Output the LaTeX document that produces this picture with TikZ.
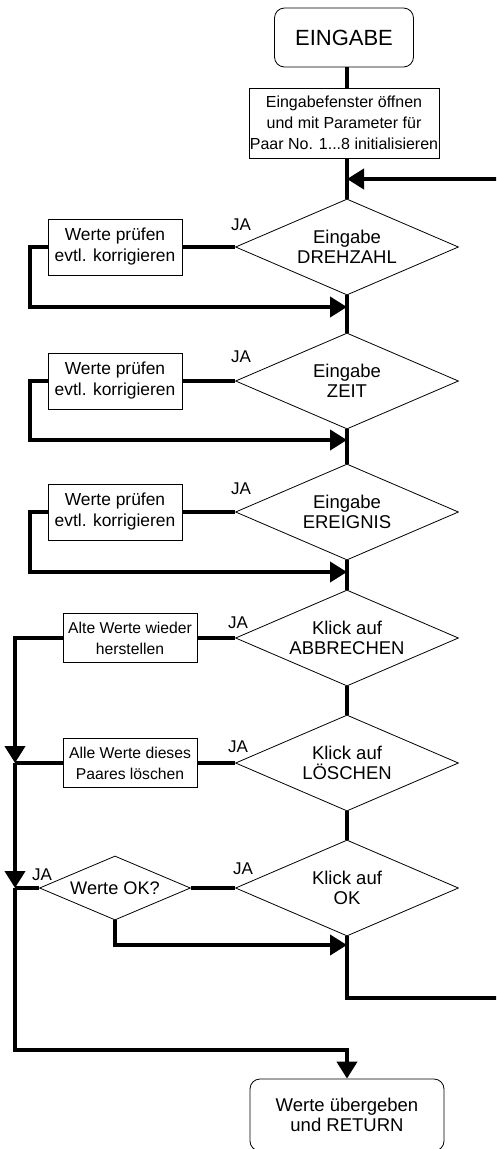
\documentclass[tikz,border=0pt]{standalone}
\usepackage{fontspec}
\setmainfont{Liberation Sans}
\usetikzlibrary{arrows.meta,shapes.geometric}

\begin{document}
\begin{tikzpicture}[x=1pt,y=-1pt,
  thinline/.style={draw=black, line width=0.8pt},
  terminal/.style={thinline, rounded corners=10pt, inner sep=0pt, align=center},
  procbox/.style={thinline, inner sep=0pt, align=center},
  decision/.style={thinline, diamond, inner sep=0pt, align=center,
    minimum width=223pt, minimum height=96pt, aspect=2.32,
    font=\fontsize{18.5}{20}\selectfont},
  checkbox/.style={procbox, minimum width=134pt, minimum height=56pt,
    font=\fontsize{17.4}{21}\selectfont},
  actionbox/.style={procbox, minimum width=134pt, minimum height=49pt,
    font=\fontsize{15.7}{21}\selectfont},
  yes/.style={font=\fontsize{17}{17}\selectfont, inner sep=0pt},
  flow/.style={line width=4pt},
  arr/.style={-{Triangle[length=17pt,width=20pt]}}]

\useasboundingbox (0,0) rectangle (496,1149);
\fill[white] (0,0) rectangle (496,1149);
\clip (0,0) rectangle (496,1149);

% start and initialisation
\node[terminal, minimum width=139pt, minimum height=59pt,
      font=\fontsize{22}{22}\selectfont] (ein) at (344,37.5) {EINGABE};
\node[procbox, minimum width=190pt, minimum height=70pt,
      font=\fontsize{16}{21}\selectfont] (init) at (344,123)
      {Eingabefenster öffnen\\und mit Parameter für\\Paar No. 1...8 initialisieren};

% main decisions
\node[decision] (d1) at (347,247) {Eingabe\\DREHZAHL};
\node[decision] (d2) at (347,381) {Eingabe\\ZEIT};
\node[decision] (d3) at (347,512) {Eingabe\\EREIGNIS};
\node[decision] (d4) at (347,638) {Klick auf\\ABBRECHEN};
\node[decision] (d5) at (347,763) {Klick auf\\LÖSCHEN};
\node[decision] (d6) at (347,888) {Klick auf\\OK};
\node[thinline, diamond, inner sep=0pt, minimum width=151pt, minimum height=64pt,
      aspect=2.36, font=\fontsize{18.2}{20}\selectfont] (ok) at (115,888) {Werte OK?};

% side actions
\node[checkbox] (w1) at (115,247) {Werte prüfen\\evtl. korrigieren};
\node[checkbox] (w2) at (115,381) {Werte prüfen\\evtl. korrigieren};
\node[checkbox] (w3) at (115,512) {Werte prüfen\\evtl. korrigieren};
\node[actionbox] (a4) at (130,638) {Alte Werte wieder\\herstellen};
\node[actionbox] (a5) at (130,763) {Alle Werte dieses\\Paares löschen};

% end
\node[terminal, minimum width=194pt, minimum height=72pt,
      font=\fontsize{18.5}{20}\selectfont] (fin) at (347,1115)
      {Werte übergeben\\und RETURN};

% "JA" labels
\node[yes] (y1) at (241,225) {JA};
\node[yes] (y2) at (241,357) {JA};
\node[yes] (y3) at (241,489) {JA};
\node[yes] (y4) at (238,623) {JA};
\node[yes] (y5) at (238,747) {JA};
\node[yes] (y6) at (243,869) {JA};
\node[yes] (y7) at (42,875) {JA};

% junction points
\coordinate (j0) at (347,179);
\coordinate (c1) at (30,307);  \coordinate (j1) at (347,307);
\coordinate (c2) at (30,440);  \coordinate (j2) at (347,440);
\coordinate (c3) at (30,572);  \coordinate (j3) at (347,572);
\coordinate (b5) at (15,763);
\coordinate (b6) at (15,888);
\coordinate (e1) at (15,1050);
\coordinate (j6) at (347,945);
\coordinate (rb) at (512,998);

% main flow
\draw[flow] (ein.south -| d1) -- (init.north -| d1);
\draw[flow] (init.south -| d1) -- (d1.north);
\draw[flow] (d1.south) -- (d2.north);
\draw[flow] (d2.south) -- (d3.north);
\draw[flow] (d3.south) -- (d4.north);
\draw[flow] (d4.south) -- (d5.north);
\draw[flow] (d5.south) -- (d6.north);
\draw[flow, arr] (d6.south) |- (rb) |- (j0);

% correction loops
\draw[flow] (w1.east) -- (d1.west);
\draw[flow, arr] (w1.west) -| (c1) -- (j1);
\draw[flow] (w2.east) -- (d2.west);
\draw[flow, arr] (w2.west) -| (c2) -- (j2);
\draw[flow] (w3.east) -- (d3.west);
\draw[flow, arr] (w3.west) -| (c3) -- (j3);

% exits to the return bus
\draw[flow] (a4.east) -- (d4.west);
\draw[flow, arr] (a4.west) -| (b5);
\draw[flow] (a5.east) -- (d5.west);
\draw[flow] (a5.west) -- (b5);
\draw[flow, arr] (b5) -- (b6);
\draw[flow] (ok.east) -- (d6.west);
\draw[flow] (ok.west) -- (b6);
\draw[flow, arr] (ok.south) |- (j6);
\draw[flow, arr] (b6) -- (e1) -| (fin.north);

\end{tikzpicture}
\end{document}
